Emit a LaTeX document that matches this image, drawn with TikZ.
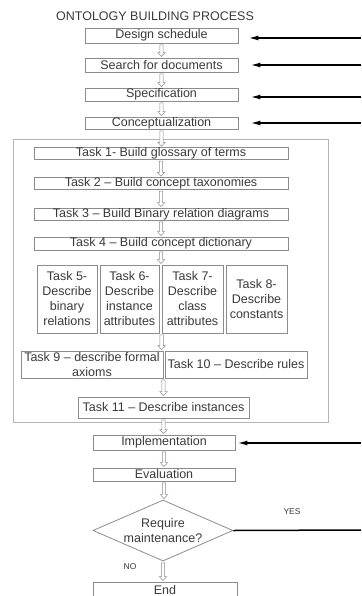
\documentclass[tikz,border=0pt]{standalone}
\usepackage{fontspec}
\setmainfont{Liberation Sans}
\usetikzlibrary{arrows.meta}
\usetikzlibrary{shapes.geometric}
\usetikzlibrary{calc}
\definecolor{boxgray}{HTML}{8C8C8C}
\definecolor{txtgray}{HTML}{3A3A3A}
\definecolor{framegray}{HTML}{B4B4B4}
\tikzset{box/.style={draw=boxgray, line width=0.8pt, inner sep=0pt, text=txtgray,
    font=\fontsize{12.5}{15}\selectfont, align=center}}
\tikzset{frame/.style={draw=framegray, line width=0.8pt, inner sep=0pt}}
\tikzset{feed/.style={draw=black, line width=1.5pt, -{Latex[length=10pt,width=5pt]}}}
\tikzset{flow/.style={draw=boxgray, fill=white, line width=0.5pt, to path={
    let \p1=(\tikztostart), \p2=(\tikztotarget) in
    (\x1-1.7pt,\y1-1.5pt) -- (\x1-1.7pt,\y2+5pt) -- (\x1-3.7pt,\y2+5pt)
    -- (\x1,\y2+1pt) -- (\x1+3.7pt,\y2+5pt) -- (\x1+1.7pt,\y2+5pt)
    -- (\x1+1.7pt,\y1-1.5pt) -- cycle}}}
\tikzset{s/.style={text=txtgray, font=\fontsize{8.5}{8.5}\selectfont}}

\begin{document}
\begin{tikzpicture}[x=1pt, y=-1pt]
  \useasboundingbox (0,0) rectangle (361,596);
  \node [text=txtgray, font=\fontsize{12.5}{12.5}\selectfont] (title) at (155,16) {ONTOLOGY BUILDING PROCESS};
  % upper steps
  \node [box, minimum width=153pt, minimum height=15pt] (ds) at (161.5,35.5) {Design schedule};
  \node [box, minimum width=153pt, minimum height=14pt] (sd) at (161.5,65) {Search for documents};
  \node [box, minimum width=153pt, minimum height=13pt] (spec) at (161.5,94.5) {Specification};
  \node [box, minimum width=153pt, minimum height=12pt] (conc) at (161.5,123) {Conceptualization};
  % tasks
  \node [frame, minimum width=315pt, minimum height=283pt] (tasks) at (170.5,280.5) {};
  \node [box, minimum width=254pt, minimum height=11pt] (t1) at (161,153.5) {Task 1- Build glossary of terms};
  \node [box, minimum width=254pt, minimum height=11pt] (t2) at (161,183.5) {Task 2 -- Build concept taxonomies};
  \node [box, minimum width=254pt, minimum height=12pt] (t3) at (161,214) {Task 3 -- Build Binary relation diagrams};
  \node [box, minimum width=254pt, minimum height=13pt] (t4) at (161,243.5) {Task 4 -- Build concept dictionary};
  \node [box, minimum width=60pt, minimum height=68pt] (t5) at (67,299) {Task 5-\\Describe\\binary\\relations};
  \node [box, minimum width=59pt, minimum height=68pt] (t6) at (129.5,299) {Task 6-\\Describe\\instance\\attributes};
  \node [box, minimum width=61pt, minimum height=68pt] (t7) at (192.5,299) {Task 7-\\Describe\\class\\attributes};
  \node [box, minimum width=61pt, minimum height=68pt] (t8) at (256.5,299) {Task 8-\\Describe\\constants};
  \node [box, minimum width=142pt, minimum height=27pt] (t9) at (92,364.5) {Task 9 -- describe formal\\axioms};
  \node [box, minimum width=142pt, minimum height=27pt] (t10) at (236,364.5) {Task 10 -- Describe rules};
  \node [box, minimum width=171pt, minimum height=21pt] (t11) at (163.5,407.5) {Task 11 -- Describe instances};
  % lower steps
  \node [box, minimum width=142pt, minimum height=15pt] (impl) at (164,442.5) {Implementation};
  \node [box, minimum width=142pt, minimum height=13pt] (eval) at (164,474.5) {Evaluation};
  \node [box, diamond, aspect=2.3, minimum width=140pt, minimum height=61pt] (maint) at (163,530.5) {Require\\maintenance?};
  \node [box, minimum width=144pt, minimum height=16pt, text height=9pt, text depth=0pt] (end) at (165,590) {End};
  \node [s] (yes) at (292,512) {YES};
  \node [s] (no) at (130,567) {NO};

  \draw [flow] (ds.south) to (sd.north);
  \draw [flow] (sd.south) to (spec.north);
  \draw [flow] (spec.south) to (conc.north);
  \draw [flow] (conc.south) to (t1.north);
  \draw [flow] (t1.south) to (t2.north);
  \draw [flow] (t2.south) to (t3.north);
  \draw [flow] (t3.south) to (t4.north);
  \draw [flow] (t4.south) to (t6.north);
  \draw [flow] (t7.south west) to (t9.north east);
  \draw [flow] (t11.north |- t9.south) to (t11.north);
  \draw [flow] (t11.south) to (impl.north);
  \draw [flow] (impl.south) to (eval.north);
  \draw [flow] (eval.south) to (maint.north);
  \draw [flow] (maint.south) to (end.north);

  % feedback from the right
  \coordinate (r1) at (361,38);
  \coordinate (r2) at (361,65);
  \coordinate (r3) at (361,97);
  \coordinate (r4) at (361,123);
  \coordinate (r5) at (361,443);
  \coordinate (r6) at (361,530);
  \draw [feed, shorten >=10pt] (r1) -- (r1 -| ds.east);
  \draw [feed, shorten >=12pt] (r2) -- (r2 -| sd.east);
  \draw [feed, shorten >=12pt] (r3) -- (r3 -| spec.east);
  \draw [feed, shorten >=12pt] (r4) -- (r4 -| conc.east);
  \draw [feed, shorten >=2pt] (r5) -- (r5 -| impl.east);
  \draw [black, line width=1.5pt] (maint.east) -- (r6);
\end{tikzpicture}
\end{document}
